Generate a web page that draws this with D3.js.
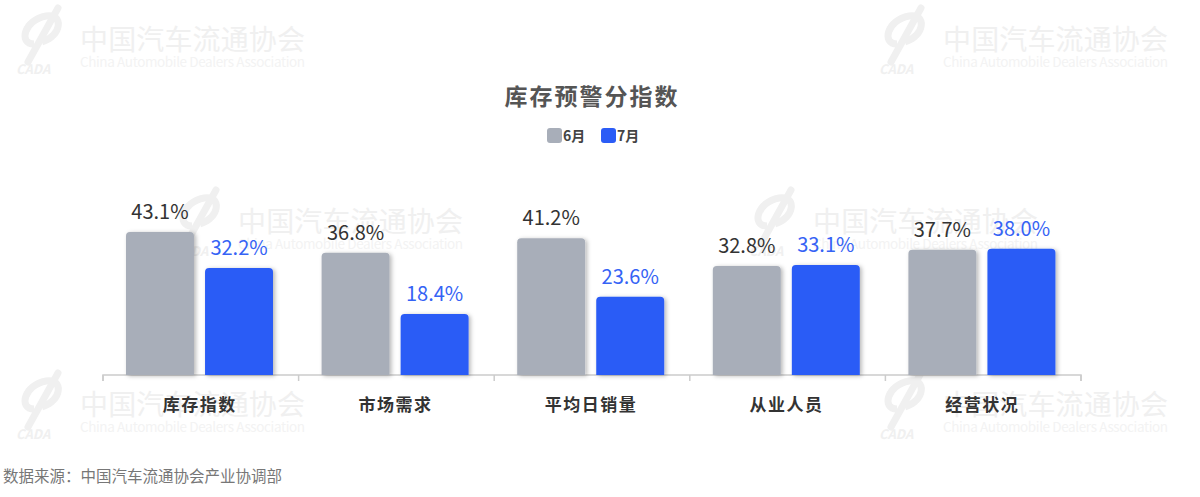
<!DOCTYPE html>
<html>
<head>
<meta charset="utf-8">
<script src="https://cdn.jsdelivr.net/npm/d3@7"></script>
<style>
  html, body { margin: 0; padding: 0; background: #fff; }
  body { width: 1200px; height: 497px; overflow: hidden; }
  text { font-family: "Noto Sans CJK SC", "Noto Sans", sans-serif; }
</style>
</head>
<body>
<script>
var categories = ["库存指数", "市场需求", "平均日销量", "从业人员", "经营状况"];
var seriesNames = ["6月", "7月"];
var june = [43.1, 36.8, 41.2, 32.8, 37.7];
var july = [32.2, 18.4, 23.6, 33.1, 38.0];
var colors = ["#a8aeb9", "#2b5cf6"];
var labelColors = ["#333333", "#3563f5"];

var width = 1200, height = 497;

var svg = d3.select("body").append("svg")
    .attr("width", width)
    .attr("height", height);

var defs = svg.append("defs");
var shadow = defs.append("filter").attr("id", "shadow")
    .attr("x", "-20%").attr("y", "-20%").attr("width", "150%").attr("height", "150%");
shadow.append("feDropShadow")
    .attr("dx", 2).attr("dy", 1).attr("stdDeviation", 2)
    .attr("flood-color", "#000").attr("flood-opacity", 0.28);

// watermarks
var marks = [[12, 0], [875, 0], [12, 365], [875, 365], [170, 182], [745, 182]];
var wm = svg.selectAll("g.wm").data(marks).enter().append("g")
    .attr("class", "wm")
    .attr("transform", function(d) { return "translate(" + d[0] + "," + d[1] + ")"; });
wm.append("path")
    .attr("d", "M22,44 C6,44 12,20 34,16 C52,13 50,36 30,42")
    .attr("fill", "none").attr("stroke", "#f0f0f0").attr("stroke-width", 7);
wm.append("path").attr("d", "M46,8 L16,62")
    .attr("stroke", "#f0f0f0").attr("stroke-width", 7).attr("stroke-linecap", "round");
wm.append("text").attr("x", 4).attr("y", 74)
    .attr("font-size", 13).attr("font-weight", "bold").attr("font-style", "italic")
    .attr("fill", "#f0f0f0").attr("font-family", "Liberation Sans, sans-serif")
    .text("CADA");
wm.append("text").attr("x", 68).attr("y", 50)
    .attr("font-size", 28).attr("fill", "#f0f0f0")
    .attr("textLength", 225)
    .text("中国汽车流通协会");
wm.append("text").attr("x", 68).attr("y", 67)
    .attr("font-size", 13.5).attr("fill", "#f3f3f3")
    .attr("font-family", "Liberation Sans, Arial, sans-serif")
    .attr("textLength", 225)
    .text("China Automobile Dealers Association");

// title
svg.append("text")
    .attr("x", 592).attr("y", 105)
    .attr("text-anchor", "middle")
    .attr("font-size", 23).attr("font-weight", "bold")
    .attr("letter-spacing", 2)
    .attr("fill", "#555")
    .text("库存预警分指数");

// legend
var legend = svg.selectAll("g.legend").data(seriesNames).enter().append("g")
    .attr("class", "legend")
    .attr("transform", function(d, i) { return "translate(" + (547 + i * 54) + ",128)"; });
legend.append("rect").attr("width", 15).attr("height", 15).attr("rx", 3)
    .attr("fill", function(d, i) { return colors[i]; });
legend.append("text").attr("x", 16).attr("y", 13)
    .attr("font-size", 14).attr("font-weight", "bold").attr("fill", "#444")
    .text(function(d) { return d; });

// scales
var x0 = d3.scaleBand().domain(categories).range([103, 1081]);
var x1 = d3.scaleBand().domain(seriesNames)
    .range([23, 23 + 147]).paddingInner(0.14);
var y = d3.scaleLinear().domain([0, 50]).range([375, 209]);

var rows = categories.map(function(c, i) {
    return { cat: c, vals: [{ s: seriesNames[0], v: june[i], k: 0 }, { s: seriesNames[1], v: july[i], k: 1 }] };
});

// axis
var xAxis = d3.axisBottom(x0).tickSize(0).tickFormat("");
var ax = svg.append("g").attr("transform", "translate(0,375)").call(xAxis);
ax.select(".domain").attr("stroke", "#cccccc").attr("stroke-width", 1.5)
    .attr("d", "M103,6V0H1081V6");
var bounds = categories.map(function(c) { return x0(c); }).concat([x0.range()[1]]);
ax.selectAll("line.tk").data(bounds).enter().append("line")
    .attr("class", "tk")
    .attr("x1", function(d) { return d; }).attr("x2", function(d) { return d; })
    .attr("y1", 0).attr("y2", 6)
    .attr("stroke", "#cccccc").attr("stroke-width", 1.5);

svg.selectAll("text.cat").data(categories).enter().append("text")
    .attr("class", "cat")
    .attr("x", function(d) { return x0(d) + x0.bandwidth() / 2 - 1; })
    .attr("y", 411)
    .attr("text-anchor", "middle")
    .attr("font-size", 17).attr("font-weight", "bold")
    .attr("letter-spacing", 1.5)
    .attr("fill", "#333")
    .text(function(d) { return d; });

function topRounded(x, yTop, w, yBase, r) {
    return "M" + x + "," + yBase +
        "V" + (yTop + r) +
        "Q" + x + "," + yTop + " " + (x + r) + "," + yTop +
        "H" + (x + w - r) +
        "Q" + (x + w) + "," + yTop + " " + (x + w) + "," + (yTop + r) +
        "V" + yBase + "Z";
}

var groups = svg.selectAll("g.grp").data(rows).enter().append("g")
    .attr("class", "grp")
    .attr("transform", function(d) { return "translate(" + x0(d.cat) + ",0)"; });

groups.selectAll("path.bar").data(function(d) { return d.vals; }).enter().append("path")
    .attr("class", "bar")
    .attr("filter", "url(#shadow)")
    .attr("fill", function(d) { return colors[d.k]; })
    .attr("d", function(d) { return topRounded(x1(d.s), y(d.v), x1.bandwidth(), y(0), 4); });

groups.selectAll("text.val").data(function(d) { return d.vals; }).enter().append("text")
    .attr("class", "val")
    .attr("x", function(d) { return x1(d.s) + x1.bandwidth() / 2; })
    .attr("y", function(d) { return y(d.v) - 13; })
    .attr("text-anchor", "middle")
    .attr("font-size", 20)
    .attr("font-family", "Noto Sans, sans-serif")
    .attr("fill", function(d) { return labelColors[d.k]; })
    .text(function(d) { return d.v.toFixed(1) + "%"; });

// source
svg.append("text")
    .attr("x", 3).attr("y", 482)
    .attr("font-size", 15.5).attr("fill", "#777")
    .text("数据来源：中国汽车流通协会产业协调部");
</script>
</body>
</html>
